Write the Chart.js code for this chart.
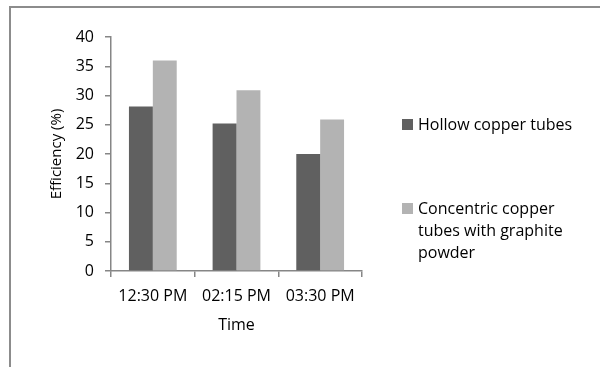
<!DOCTYPE html>
<html>
<head>
<meta charset="utf-8">
<script src="https://cdn.jsdelivr.net/npm/chart.js@4"></script>
<style>
  body { margin: 0; background: #fff; }
  #wrap { position: relative; width: 600px; height: 367px; overflow: hidden; }
  #frame { position: absolute; left: 9px; top: 6px; width: 600px; height: 400px;
           border-top: 2px solid #8c8c8c; border-left: 2px solid #8c8c8c; }
  #legend { position: absolute; left: 402px; top: 0; font-family: "Open Sans", sans-serif;
            font-size: 16px; color: #000; }
  .item { position: absolute; left: 0; line-height: 22px; }
  .box { position: absolute; left: 0; width: 11px; height: 11px; }
  .txt { margin-left: 16px; }
</style>
</head>
<body>
<div id="wrap">
  <div id="frame"></div>
  <canvas id="chart" width="600" height="367"></canvas>
  <div id="legend"></div>
</div>
<script>
const times = ["12:30 PM", "02:15 PM", "03:30 PM"];
const hollow = [28.1, 25.2, 20.0];
const concentric = [36.0, 30.9, 25.9];
const seriesNames = ["Hollow copper tubes", "Concentric copper tubes with graphite powder"];
const colors = ["#606060", "#b3b3b3"];

const tickFont = { family: "Open Sans", size: 16 };
const titleFont = { family: "Open Sans", size: 15 };
const axisGray = "#868686";

const ctx = document.getElementById('chart');

const chart = new Chart(ctx, {
    type: 'bar',
    data: {
        labels: times,
        datasets: [
            { label: seriesNames[0], data: hollow, backgroundColor: colors[0] },
            { label: seriesNames[1], data: concentric, backgroundColor: colors[1] }
        ]
    },
    options: {
        responsive: false,
        animation: false,
        layout: { padding: { top: 37, right: 238, bottom: 0, left: 0 } },
        plugins: { legend: { display: false }, tooltip: { enabled: false } },
        datasets: { bar: { categoryPercentage: 0.571, barPercentage: 1 } },
        scales: {
            x: {
                grid: { drawOnChartArea: false, drawTicks: true, tickLength: 6, color: axisGray, lineWidth: 1.5 },
                border: { color: axisGray, width: 1.5 },
                ticks: { color: "#000", font: tickFont, padding: 10, maxRotation: 0 },
                title: { display: true, text: "Time", color: "#000", font: { family: "Open Sans", size: 16 }, padding: { top: 0, bottom: 32 } },
                afterFit: s => { s.height = 96; }
            },
            y: {
                min: 0, max: 40,
                grid: { drawOnChartArea: false, drawTicks: true, tickLength: 6, color: axisGray, lineWidth: 1.5 },
                border: { color: axisGray, width: 1.5 },
                ticks: { color: "#000", font: tickFont, padding: 11, stepSize: 5 },
                title: { display: true, text: "Efficiency (%)", color: "#000", font: titleFont, padding: { top: 48, bottom: 0 } },
                afterFit: s => { s.width = 111; }
            }
        }
    }
});

// legend as html so the long label can wrap like the original
const legend = document.getElementById('legend');
const tops = [113, 197];
chart.data.datasets.forEach((ds, i) => {
    const item = document.createElement('div');
    item.className = 'item';
    item.style.top = tops[i] + 'px';
    item.style.width = i === 0 ? '196px' : '181px';
    const box = document.createElement('div');
    box.className = 'box';
    box.style.top = '6px';
    box.style.background = ds.backgroundColor;
    const txt = document.createElement('div');
    txt.className = 'txt';
    txt.textContent = ds.label;
    item.appendChild(box);
    item.appendChild(txt);
    legend.appendChild(item);
});
</script>
</body>
</html>
